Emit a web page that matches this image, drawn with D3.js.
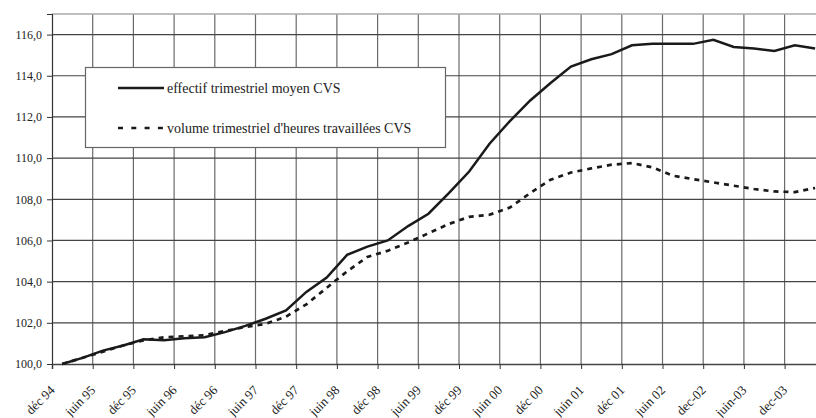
<!DOCTYPE html>
<html>
<head>
<meta charset="utf-8">
<script src="https://cdn.jsdelivr.net/npm/d3@7"></script>
<style>
  body { margin: 0; background: #fff; }
</style>
</head>
<body>
<script>
// Quarterly values, dec 94 -> mid 04 (index 100 at first quarter)
var effectif = [100.0, 100.3, 100.65, 100.9, 101.2, 101.15, 101.25, 101.3, 101.55, 101.85,
  102.2, 102.6, 103.5, 104.2, 105.3, 105.7, 106.0, 106.7, 107.3, 108.3,
  109.35, 110.7, 111.8, 112.8, 113.65, 114.45, 114.8, 115.05, 115.48, 115.55,
  115.55, 115.55, 115.75, 115.4, 115.32, 115.2, 115.48, 115.32];

var volume = [100.0, 100.3, 100.6, 100.9, 101.15, 101.3, 101.35, 101.4, 101.6, 101.8,
  101.95, 102.3, 102.9, 103.7, 104.5, 105.2, 105.5, 105.9, 106.35, 106.8,
  107.15, 107.25, 107.6, 108.3, 108.95, 109.3, 109.5, 109.68, 109.76, 109.55,
  109.15, 108.98, 108.82, 108.66, 108.5, 108.38, 108.35, 108.55];

// One label every two quarters
var tickLabels = ["déc 94", "juin 95", "déc 95", "juin 96", "déc 96", "juin 97", "déc 97",
  "juin 98", "déc 98", "juin 99", "déc 99", "juin 00", "déc 00", "juin 01", "déc 01",
  "juin 02", "dec-02", "juin-03", "dec-03"];

var yTicks = [100, 102, 104, 106, 108, 110, 112, 114, 116];

var seriesNames = ["effectif trimestriel moyen CVS", "volume trimestriel d'heures travaillées CVS"];

var width = 816;
var height = 418;
var plotLeft = 52, plotTop = 14, plotBottom = 364;
var step = 20.35; // pixels per quarter
var serif = '"Liberation Serif", "Times New Roman", serif';

var svg = d3.select('body').append('svg')
  .attr('width', width)
  .attr('height', height);

// categories sit between tick marks (Excel style)
var x = d3.scaleLinear()
  .domain([0, effectif.length])
  .range([plotLeft, plotLeft + effectif.length * step]);

var y = d3.scaleLinear()
  .domain([100, 117])
  .range([plotBottom, plotTop]);

var tickIdx = tickLabels.map(function (d, i) { return i * 2; });

// vertical grid
svg.append('g')
  .selectAll('line')
  .data(tickIdx.slice(1))
  .enter()
  .append('line')
  .attr('x1', function (d) { return x(d); })
  .attr('x2', function (d) { return x(d); })
  .attr('y1', plotTop)
  .attr('y2', plotBottom)
  .attr('stroke', '#6a6a6a')
  .attr('stroke-width', 1.2);

// horizontal grid
svg.append('g')
  .selectAll('line')
  .data(yTicks.slice(1))
  .enter()
  .append('line')
  .attr('x1', plotLeft)
  .attr('x2', width)
  .attr('y1', function (d) { return y(d); })
  .attr('y2', function (d) { return y(d); })
  .attr('stroke', '#444')
  .attr('stroke-width', 1.2);

// top border of the plot area
svg.append('line')
  .attr('x1', plotLeft).attr('x2', width)
  .attr('y1', plotTop).attr('y2', plotTop)
  .attr('stroke', '#aaa')
  .attr('stroke-width', 1.5);

// y axis
var yAxis = svg.append('g')
  .attr('transform', 'translate(' + plotLeft + ',0)')
  .call(d3.axisLeft(y)
    .tickValues(yTicks)
    .tickSize(5)
    .tickPadding(5)
    .tickFormat(function (d) { return d3.format('.1f')(d).replace('.', ','); }));
yAxis.select('.domain').attr('stroke', '#333').attr('stroke-width', 1.2);
yAxis.selectAll('.tick line').attr('stroke', '#333');
yAxis.selectAll('text')
  .style('font-family', serif)
  .style('font-size', '12px')
  .attr('fill', '#222');

// x axis, labels slanted at 45 degrees
var xAxis = svg.append('g')
  .attr('transform', 'translate(0,' + plotBottom + ')')
  .call(d3.axisBottom(x)
    .tickValues(tickIdx)
    .tickSize(5)
    .tickFormat(function (d, i) { return tickLabels[i]; }));
xAxis.select('.domain').attr('stroke', '#444').attr('stroke-width', 1.5);
xAxis.selectAll('.tick line').attr('stroke', '#333');
xAxis.selectAll('text')
  .style('font-family', serif)
  .style('font-size', '13px')
  .attr('fill', '#222')
  .attr('dy', null)
  .attr('y', 0)
  .attr('text-anchor', 'end')
  .attr('transform', 'translate(3,27) rotate(-45)');

var line = d3.line()
  .x(function (d, i) { return x(i + 0.5); })
  .y(function (d) { return y(d); });

svg.append('path')
  .datum(effectif)
  .attr('d', line)
  .attr('fill', 'none')
  .attr('stroke', '#1a1a1a')
  .attr('stroke-width', 2.5);

svg.append('path')
  .datum(volume)
  .attr('d', line)
  .attr('fill', 'none')
  .attr('stroke', '#1a1a1a')
  .attr('stroke-width', 2.7)
  .attr('stroke-dasharray', '5,5');

// legend
var legend = svg.append('g');
legend.append('rect')
  .attr('x', 85.5).attr('y', 67.5)
  .attr('width', 360).attr('height', 80)
  .attr('fill', '#fff')
  .attr('stroke', '#666')
  .attr('stroke-width', 1.2);

var dashes = [null, '5,8.3'];
seriesNames.forEach(function (name, i) {
  var ly = 88 + i * 40;
  legend.append('line')
    .attr('x1', 118).attr('x2', 164)
    .attr('y1', ly).attr('y2', ly)
    .attr('stroke', '#1a1a1a')
    .attr('stroke-width', 2.7)
    .attr('stroke-dasharray', dashes[i]);
  legend.append('text')
    .attr('x', 167).attr('y', ly + 5)
    .style('font-family', serif)
    .style('font-size', '14px')
    .attr('fill', '#222')
    .text(name);
});
</script>
</body>
</html>
